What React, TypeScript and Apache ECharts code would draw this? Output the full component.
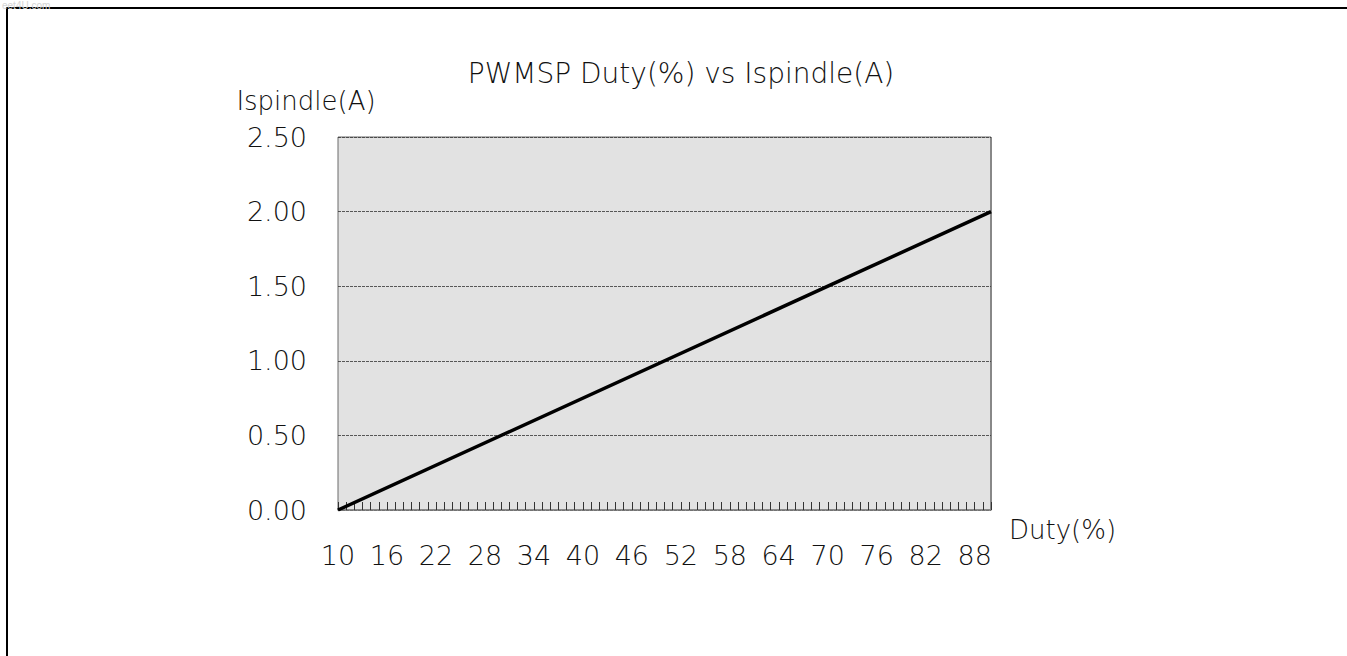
import React, { useEffect, useRef } from "react";
import * as echarts from "echarts";

const titleText = "PWMSP Duty(%) vs Ispindle(A)";
const xName = "Duty(%)";
const yName = "Ispindle(A)";
const watermark = "eet4U.com";

const duty = [10, 90];
const current = [0, 2.0];

const xMin = 10;
const xMax = 90;
const xStep = 6;
const yMin = 0;
const yMax = 2.5;
const yStep = 0.5;

const FONT = "'DejaVu Sans', sans-serif";

export default function App() {
  const ref = useRef<HTMLDivElement>(null);
  useEffect(() => {
    if (!ref.current) return;
    const chart = echarts.init(ref.current, null, { renderer: "svg" });
    const data = duty.map((d, i) => [d, current[i]]);
    chart.setOption({
      animation: false,
      backgroundColor: "#ffffff",
      grid: {
        left: 338,
        top: 137,
        width: 653,
        height: 373,
        show: true,
        backgroundColor: "#e2e2e2",
        borderColor: "#6a6a6a",
        borderWidth: 1,
      },
      xAxis: [
        {
          type: "value",
          min: xMin,
          max: xMax,
          interval: xStep,
          position: "bottom",
          axisLine: { show: true, lineStyle: { color: "#808080", width: 1.5 } },
          axisTick: { show: false },
          splitLine: { show: false },
          axisLabel: {
            showMaxLabel: false,
            margin: 32,
            fontSize: 27,
            fontWeight: 200,
            color: "#111",
            fontFamily: FONT,
          },
        },
        {
          type: "value",
          min: xMin,
          max: xMax,
          interval: 1,
          position: "bottom",
          axisLine: { show: false },
          axisTick: { show: true, inside: true, length: 8, lineStyle: { color: "#333", width: 1 } },
          splitLine: { show: false },
          axisLabel: { show: false },
        },
      ],
      yAxis: {
        type: "value",
        min: yMin,
        max: yMax,
        interval: yStep,
        axisLine: { show: false },
        axisTick: { show: false },
        splitLine: { show: true, lineStyle: { color: "#333", type: [3, 1], width: 0.8 } },
        axisLabel: {
          margin: 31,
          fontSize: 27,
          fontWeight: 200,
          color: "#111",
          fontFamily: FONT,
          formatter: (v: number) => v.toFixed(2),
        },
      },
      graphic: [
        {
          type: "polyline",
          shape: { points: [[7, 656], [7, 8], [1347, 8]] },
          style: { stroke: "#000", lineWidth: 2, fill: "none" },
          silent: true,
        },
        {
          type: "line",
          shape: { x1: 991, y1: 137, x2: 991, y2: 510 },
          style: { stroke: "#888", lineWidth: 2 },
          silent: true,
        },
        {
          type: "text",
          x: 2,
          y: 0,
          style: {
            text: watermark,
            fontSize: 10,
            fontFamily: "'Liberation Sans', Arial, sans-serif",
            fill: "#d4d4d4",
            textVerticalAlign: "top",
          },
          silent: true,
        },
        {
          type: "text",
          x: 681,
          y: 73,
          style: {
            text: titleText,
            fontSize: 28,
            fontWeight: 200,
            fontFamily: FONT,
            fill: "#111",
            textAlign: "center",
            textVerticalAlign: "middle",
          },
        },
        {
          type: "text",
          x: 306,
          y: 101,
          style: {
            text: yName,
            fontSize: 26,
            fontWeight: 200,
            fontFamily: FONT,
            fill: "#111",
            textAlign: "center",
            textVerticalAlign: "middle",
          },
        },
        {
          type: "text",
          x: 1009,
          y: 530,
          style: {
            text: xName,
            fontSize: 26,
            fontWeight: 200,
            fontFamily: FONT,
            fill: "#111",
            textAlign: "left",
            textVerticalAlign: "middle",
          },
        },
      ],
      series: [
        {
          type: "line",
          xAxisIndex: 0,
          data,
          symbol: "none",
          lineStyle: { color: "#000", width: 3.5 },
        },
      ],
    });
    return () => chart.dispose();
  }, []);
  return (
    <div
      ref={ref}
      style={{ position: "fixed", left: 0, top: 0, width: 1347, height: 656 }}
    />
  );
}
